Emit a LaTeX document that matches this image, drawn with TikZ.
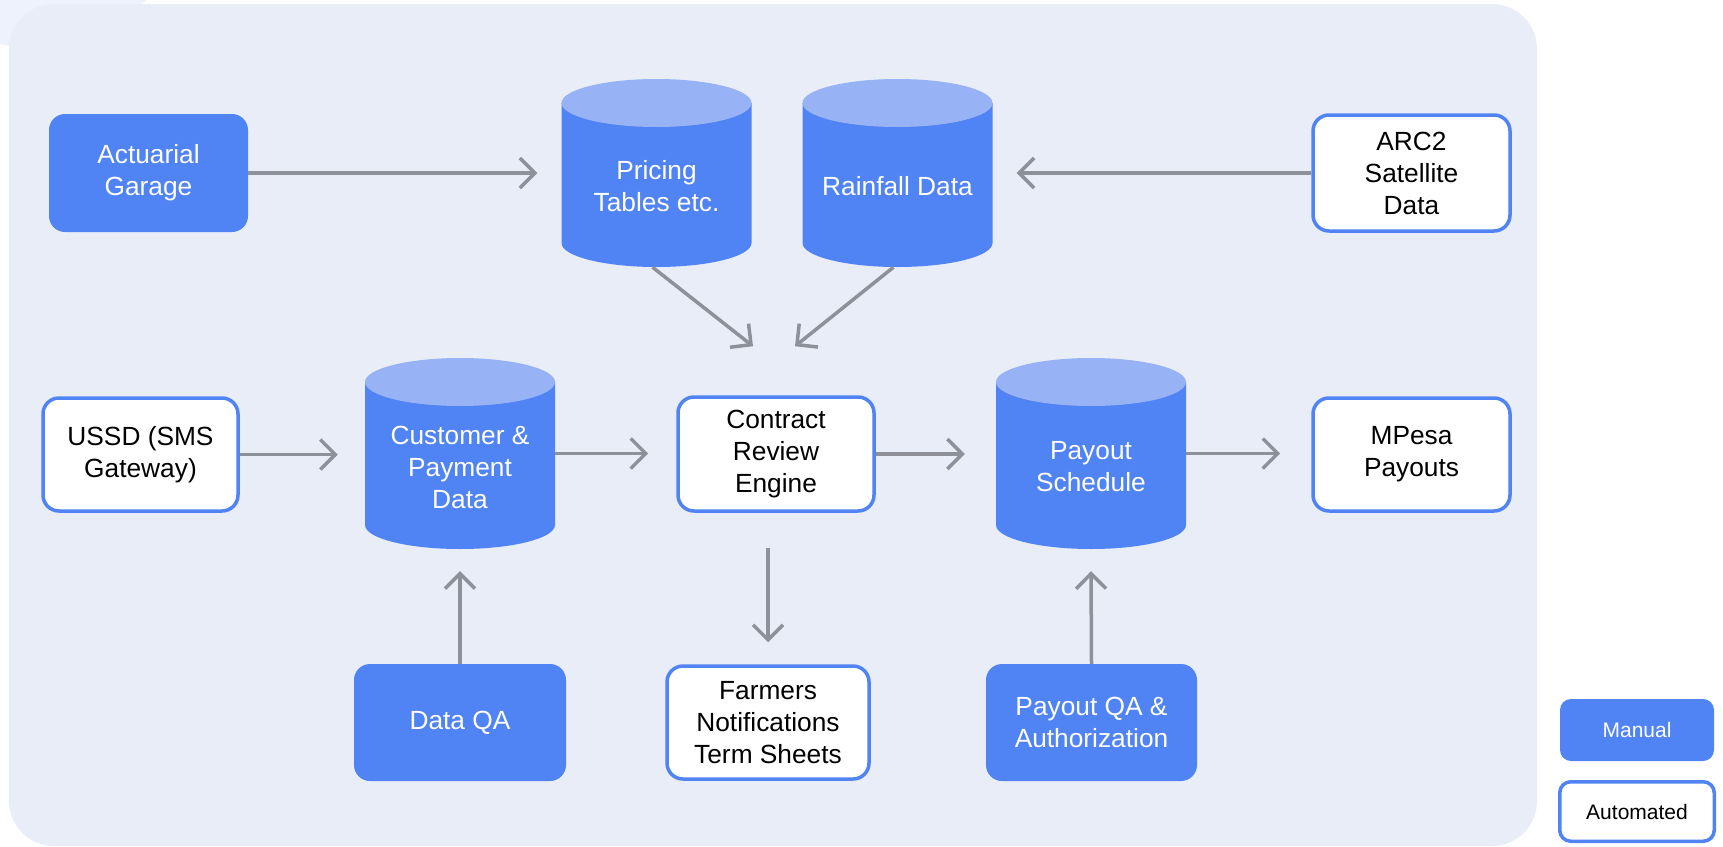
\documentclass[tikz,border=0pt]{standalone}
\usepackage{fontspec}
\setmainfont{Liberation Sans}
\usetikzlibrary{arrows.meta,calc}
\definecolor{mblue}{HTML}{5083F3}
\definecolor{ltop}{HTML}{97B3F6}
\definecolor{panel}{HTML}{E9EDF8}
\definecolor{agray}{HTML}{8E9199}
\definecolor{ghost}{HTML}{EEF2FC}
\tikzset{
  manual/.style={rectangle, rounded corners=16pt, fill=mblue, text=white, align=center, inner sep=0pt, font=\fontsize{26.3}{32}\selectfont},
  autobox/.style={rectangle, rounded corners=16pt, draw=mblue, line width=3.5pt, fill=white, text=black, align=center, inner sep=0pt, font=\fontsize{26.3}{32}\selectfont},
  dbtext/.style={text=white, align=center, inner sep=0pt, font=\fontsize{26.3}{32}\selectfont},
  dbbox/.style={rectangle, inner sep=0pt, minimum width=190pt},
  flow/.style={draw=agray, line width=3.5pt, -{Straight Barb[length=15pt,width=30pt]}},
  legm/.style={manual, rounded corners=11pt, font=\fontsize{21}{26}\selectfont},
  lega/.style={autobox, rounded corners=11pt, font=\fontsize{21}{26}\selectfont}
}
% name, cx, top, bottom, textY, text
\newcommand{\dbcyl}[6]{%
  \fill[mblue] (#2-95,#3+24) -- (#2-95,#4-24) arc[start angle=180,end angle=360,x radius=95pt,y radius=24pt] -- (#2+95,#3+24) -- cycle;
  \fill[ltop] (#2,#3+24) ellipse[x radius=95pt,y radius=24pt];
  \node[dbbox, minimum height={#4pt-#3pt}] (#1) at (#2,{(#3+#4)/2}) {};
  \node[dbtext] (#1-t) at (#2,#5) {#6};
}
\begin{document}
\begin{tikzpicture}[x=1pt,y=-1pt]
\useasboundingbox (0,0) rectangle (1723,846);
\fill[white] (0,0) rectangle (1723,846);
\begin{scope}
  \clip (0,0) rectangle (1723,846);
  \fill[ghost] (30,-120) circle[radius=167pt];
\end{scope}
\fill[panel, rounded corners=45pt] (9,4) rectangle (1537,846);

% boxes
\node[manual, minimum width=199pt, minimum height=118pt] (act) at (148.5,173) {Actuarial\\Garage};
\node[autobox, minimum width=197pt, minimum height=116pt] (arc) at (1411.5,173) {ARC2\\Satellite\\Data};
\node[autobox, minimum width=195pt, minimum height=113pt] (ussd) at (140.5,454.5) {USSD (SMS\\Gateway)};
\node[autobox, minimum width=196pt, minimum height=114pt] (cre) at (776,454) {Contract\\Review\\Engine};
\node[autobox, minimum width=197pt, minimum height=113pt] (mpesa) at (1411.5,454.5) {MPesa\\Payouts};
\node[manual, minimum width=212pt, minimum height=117pt] (dqa) at (460,722.5) {Data QA};
\node[autobox, minimum width=202pt, minimum height=113pt] (farm) at (768,722.5) {Farmers\\Notifications\\Term Sheets};
\node[manual, minimum width=211pt, minimum height=117pt] (pqa) at (1091.5,722.5) {Payout QA \&\\Authorization};

% cylinders
\dbcyl{pricing}{656.5}{79}{267}{186}{Pricing\\Tables etc.}
\dbcyl{rainfall}{897.5}{79}{267}{186}{Rainfall Data}
\dbcyl{customer}{460}{358}{549}{467}{Customer \&\\Payment\\Data}
\dbcyl{payout}{1091}{358}{549}{467}{Payout\\Schedule}

% legend
\node[legm, minimum width=154pt, minimum height=62pt] (lman) at (1637,730) {Manual};
\node[lega, minimum width=154.5pt, minimum height=59.5pt] (lauto) at (1637,811.5) {Automated};

% connectors
\draw[flow] (act.east) -- ($(pricing.west)+(-24,0)$);
\draw[flow] ($(pricing.south)+(-4,0)$) -- ($(cre.north)+(-23,-49)$);
\draw[flow] ($(rainfall.south)+(-4,0)$) -- ($(cre.north)+(19,-49)$);
\draw[flow] (arc.west) -- ($(rainfall.east)+(24,0)$);
\draw[flow] (ussd.east) -- ++(98,0);
\draw[flow] (customer.east) -- ++(93,0);
\draw[flow] (cre.east) -- ++(89,0);
\draw[flow] (payout.east) -- ++(94,0);
\draw[flow] (dqa.north) -- ($(customer.south)+(0,22)$);
\draw[flow] ($(cre.south)+(-8,35)$) -- ($(farm.north)+(0,-22)$);
\draw[flow] (pqa.north) -- ($(payout.south)+(0,22)$);
\end{tikzpicture}
\end{document}
